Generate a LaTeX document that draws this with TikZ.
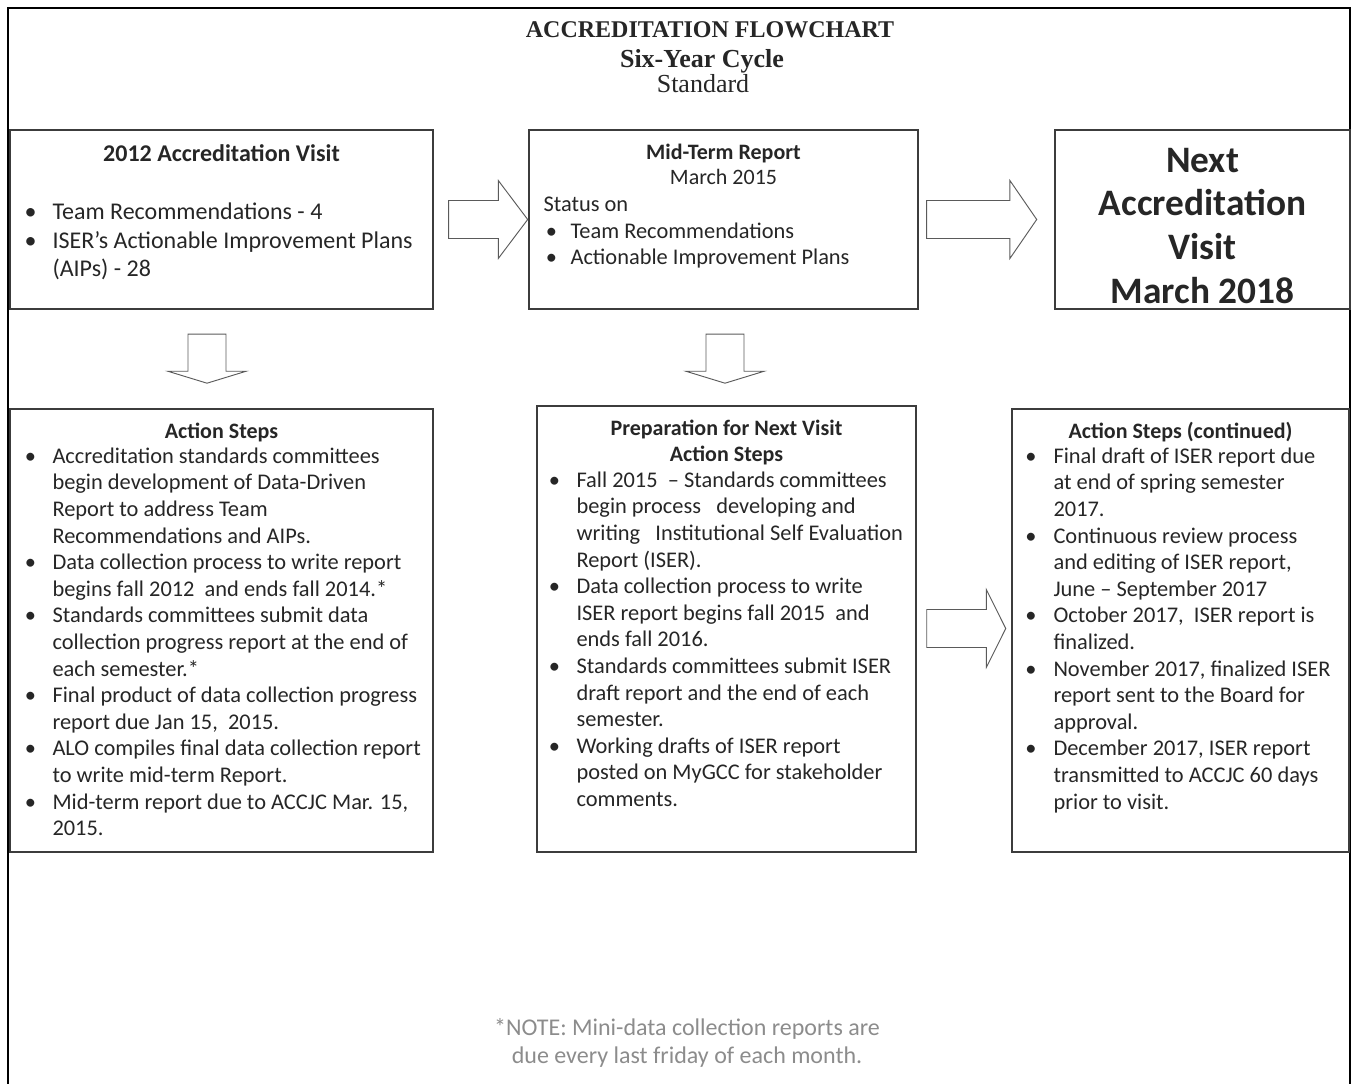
\documentclass[tikz,border=0pt]{standalone}
\usepackage{fontspec}
\setmainfont{Carlito}
\newfontfamily\titlefont{Liberation Serif}
\usepackage{tikz}
\usetikzlibrary{calc}
\usetikzlibrary{fit}
\usetikzlibrary{shapes.arrows}
\usetikzlibrary{positioning}

\definecolor{boxline}{HTML}{3C3C3C}
\definecolor{txt}{HTML}{262626}
\definecolor{arrline}{HTML}{5A5A5A}
\definecolor{notegray}{HTML}{8C8C8C}

\newcommand{\bul}[1][16.5pt]{\llap{\makebox[0pt][c]{\textbullet}\hspace{#1}}}
\newcommand{\lines}[1]{\begin{tabular}[t]{@{}l@{}}#1\end{tabular}}
\newcommand{\clines}[1]{\begin{tabular}[t]{@{}c@{}}#1\end{tabular}}

\tikzset{
  box/.style={draw=boxline, line width=1.1pt, inner sep=0pt},
  head/.style={anchor=base, inner sep=0pt, text=txt, font=\bfseries\fontsize{16.5}{19.5}\selectfont},
  lst/.style={anchor=base west, inner sep=0pt, text=txt, font=\fontsize{16.8}{19.95}\selectfont},
  blk/.style={single arrow, draw=arrline, line width=0.7pt, inner xsep=0pt, inner ysep=13.9pt,
    single arrow head extend=15pt},
  blkdown/.style={blk, shape border rotate=270, inner xsep=13.9pt, inner ysep=0pt},
}

\begin{document}
\begin{tikzpicture}[x=0.75pt, y=-0.75pt]
  \useasboundingbox (0,0) rectangle (1356,1084);
  % frame, open at the bottom
  \draw[line width=2pt] (8,1090) -- (8,8) -- (1350,8) -- (1350,1090);

  % title
  \node[anchor=base, inner sep=0pt, text=txt, font=\titlefont\bfseries\fontsize{18}{20}\selectfont] (title) at (710,38) {ACCREDITATION FLOWCHART};
  \node[anchor=base, inner sep=0pt, text=txt, font=\titlefont\bfseries\fontsize{19.5}{21}\selectfont] (cycle) at (702,68) {Six-Year Cycle};
  \node[anchor=base, inner sep=0pt, text=txt, font=\titlefont\fontsize{19.5}{21}\selectfont] (kind) at (703,93) {Standard};

  % top row
  \node[box, fit={(10,130) (433,309)}] (visit) {};
  \node[box, fit={(529,130) (918,309)}] (mid) {};
  \node[box, fit={(1055,130) (1350,309)}] (next) {};

  \node[head, font=\bfseries\fontsize{18}{21.4}\selectfont] (visitT) at ($(visit.north)+(0,32)$) {2012 Accreditation Visit};
  \node[lst, font=\fontsize{18}{21.6}\selectfont] (visitL) at ($(visit.north west)+(43,90)$) {\lines{%
    \bul Team Recommendations - 4\\
    \bul ISER's Actionable Improvement Plans\\
    (AIPs) - 28}};

  \node[head, font=\fontsize{16.5}{18.75}\selectfont] (midT) at ($(mid.north)+(0,30)$) {\clines{\textbf{Mid-Term Report}\\ March 2015}};
  \node[lst, font=\fontsize{16.8}{20}\selectfont] (status) at ($(mid.north west)+(15,82)$) {Status on};
  \node[lst, font=\fontsize{16.8}{20}\selectfont] (midL) at ($(mid.north west)+(42,109)$) {\lines{%
    \bul[14.25pt]Team Recommendations\\
    \bul[14.25pt]Actionable Improvement Plans}};

  \node[head, font=\bfseries\fontsize{28}{32.8}\selectfont] (nextT) at ($(next.north)+(0,43)$) {\clines{Next\\ Accreditation\\ Visit\\ March 2018}};

  % bottom row
  \node[box, fit={(10,409) (433,852)}] (steps) {};
  \node[box, fit={(537,406) (916,852)}] (prep) {};
  \node[box, fit={(1012,409) (1349,852)}] (cont) {};

  \node[head] (stepsT) at ($(steps.north)+(0,30)$) {Action Steps};
  \node[lst] (stepsL) at ($(steps.north west)+(43,55)$) {\lines{%
    \bul Accreditation standards committees\\
    begin development of Data-Driven\\
    Report to address Team\\
    Recommendations and AIPs.\\
    \bul Data collection process to write report\\
    begins fall 2012\ \ and ends fall 2014.*\\
    \bul Standards committees submit data\\
    collection progress report at the end of\\
    each semester.*\\
    \bul Final product of data collection progress\\
    report due Jan 15,\ \ 2015.\\
    \bul ALO compiles final data collection report\\
    to write mid-term Report.\\
    \bul Mid-term report due to ACCJC Mar. 15,\\
    2015.}};

  \node[head] (prepT) at ($(prep.north)+(0,30)$) {\clines{Preparation for Next Visit\\ Action Steps}};
  \node[lst] (prepL) at ($(prep.north west)+(40,82)$) {\lines{%
    \bul Fall 2015\ \ -- Standards committees\\
    begin process\ \ \ developing and\\
    writing\ \ \ Institutional Self Evaluation\\
    Report (ISER).\\
    \bul Data collection process to write\\
    ISER report begins fall 2015\ \ and\\
    ends fall 2016.\\
    \bul Standards committees submit ISER\\
    draft report and the end of each\\
    semester.\\
    \bul Working drafts of ISER report\\
    posted on MyGCC for stakeholder\\
    comments.}};

  \node[head] (contT) at ($(cont.north)+(0,30)$) {Action Steps (continued)};
  \node[lst] (contL) at ($(cont.north west)+(42,55)$) {\lines{%
    \bul[17pt]Final draft of ISER report due\\
    at end of spring semester\\
    2017.\\
    \bul[17pt]Continuous review process\\
    and editing of ISER report,\\
    June -- September 2017\\
    \bul[17pt]October 2017,\ \ ISER report is\\
    finalized.\\
    \bul[17pt]November 2017, finalized ISER\\
    report sent to the Board for\\
    approval.\\
    \bul[17pt]December 2017, ISER report\\
    transmitted to ACCJC 60 days\\
    prior to visit.}};

  % block arrows
  \node[blk, single arrow tip angle=106, minimum height=59.25pt, anchor=tip] (visit2mid) at (mid.west) {};
  \node[blk, single arrow tip angle=111, minimum height=82.5pt, anchor=tip] (mid2next) at ($(next.west)+(-17,0)$) {};
  \node[blk, single arrow tip angle=127, minimum height=59.25pt, anchor=tip] (prep2cont) at ($(cont.west)+(-5,-2)$) {};
  \node[blkdown, single arrow tip angle=146, minimum height=36.75pt, anchor=tail] (visit2steps) at ($(visit.south)+(-14.5,24)$) {};
  \node[blkdown, single arrow tip angle=146, minimum height=36.75pt, anchor=tail] (mid2prep) at ($(mid.south)+(1.5,24)$) {};

  % note
  \node[anchor=base, inner sep=0pt, text=notegray, font=\fontsize{18}{21}\selectfont] (note) at (687,1035) {\clines{*NOTE: Mini-data collection reports are\\ due every last friday of each month.}};
\end{tikzpicture}
\end{document}
